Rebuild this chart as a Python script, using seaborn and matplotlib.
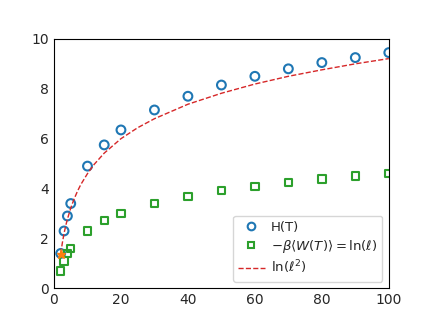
import numpy as np
import pandas as pd
import matplotlib
matplotlib.use("Agg")
import matplotlib.pyplot as plt
import seaborn as sns
from matplotlib.lines import Line2D

sns.set_style("white")
plt.rcParams["font.family"] = ["DejaVu Sans"]
plt.rcParams["font.size"] = 10
plt.rcParams["axes.edgecolor"] = "black"
plt.rcParams["axes.linewidth"] = 0.8

# ---- data ----
ell = [2, 3, 4, 5, 10, 15, 20, 30, 40, 50, 60, 70, 80, 90, 100]
h_T = [1.4, 2.3, 2.9, 3.4, 4.9, 5.75, 6.35, 7.15, 7.7, 8.15, 8.5, 8.8, 9.05, 9.25, 9.45]
work = [0.69, 1.1, 1.39, 1.61, 2.3, 2.71, 3.0, 3.4, 3.69, 3.91, 4.09, 4.25, 4.38, 4.5, 4.6]

line_x = [2, 2.5, 3, 3.5, 4, 5, 6, 7, 8, 10, 12, 15, 20, 25, 30, 40, 50, 60, 70, 80, 90, 100]
line_y = [1.39, 1.83, 2.2, 2.51, 2.77, 3.22, 3.58, 3.89, 4.16, 4.6, 4.97, 5.42, 6.0,
          6.44, 6.8, 7.38, 7.82, 8.19, 8.5, 8.76, 9.0, 9.21]

star_x = [2]
star_y = [1.39]

df_h = pd.DataFrame({"ell": ell, "val": h_T})
df_w = pd.DataFrame({"ell": ell, "val": work})
df_line = pd.DataFrame({"ell": line_x, "val": line_y})

fig, ax = plt.subplots(figsize=(4.32, 3.24), dpi=100)

sns.scatterplot(data=df_h, x="ell", y="val", ax=ax, marker="o", s=40,
                facecolors="none", edgecolor="C0", linewidth=1.5)
sns.scatterplot(data=df_w, x="ell", y="val", ax=ax, marker="s", s=28,
                facecolors="none", edgecolor="C2", linewidth=1.5)
sns.lineplot(data=df_line, x="ell", y="val", ax=ax, color="C3", linestyle="--", linewidth=1)
ax.plot(star_x, star_y, marker="*", color="C1", markersize=6.5, linestyle="none")

ax.set_xlim(0, 100)
ax.set_ylim(0, 10)
ax.set_xlabel("")
ax.set_ylabel("")
ax.tick_params(length=0, labelsize=10)

handles = [
    Line2D([], [], marker="o", linestyle="none", markerfacecolor="none",
           markeredgecolor="C0", markeredgewidth=1.5, markersize=5.5),
    Line2D([], [], marker="s", linestyle="none", markerfacecolor="none",
           markeredgecolor="C2", markeredgewidth=1.5, markersize=5),
    Line2D([], [], color="C3", linestyle="--", linewidth=1),
]
labels = ["H(T)", r"$-\beta\langle W(T)\rangle = \ln(\ell)$", r"$\ln(\ell^2)$"]
ax.legend(handles, labels, loc="lower right", fontsize=9.5, labelspacing=0.3,
          handletextpad=0.45)

fig.subplots_adjust(left=0.125, right=0.9, bottom=0.11, top=0.88)
fig.savefig("out.png", dpi=100)
